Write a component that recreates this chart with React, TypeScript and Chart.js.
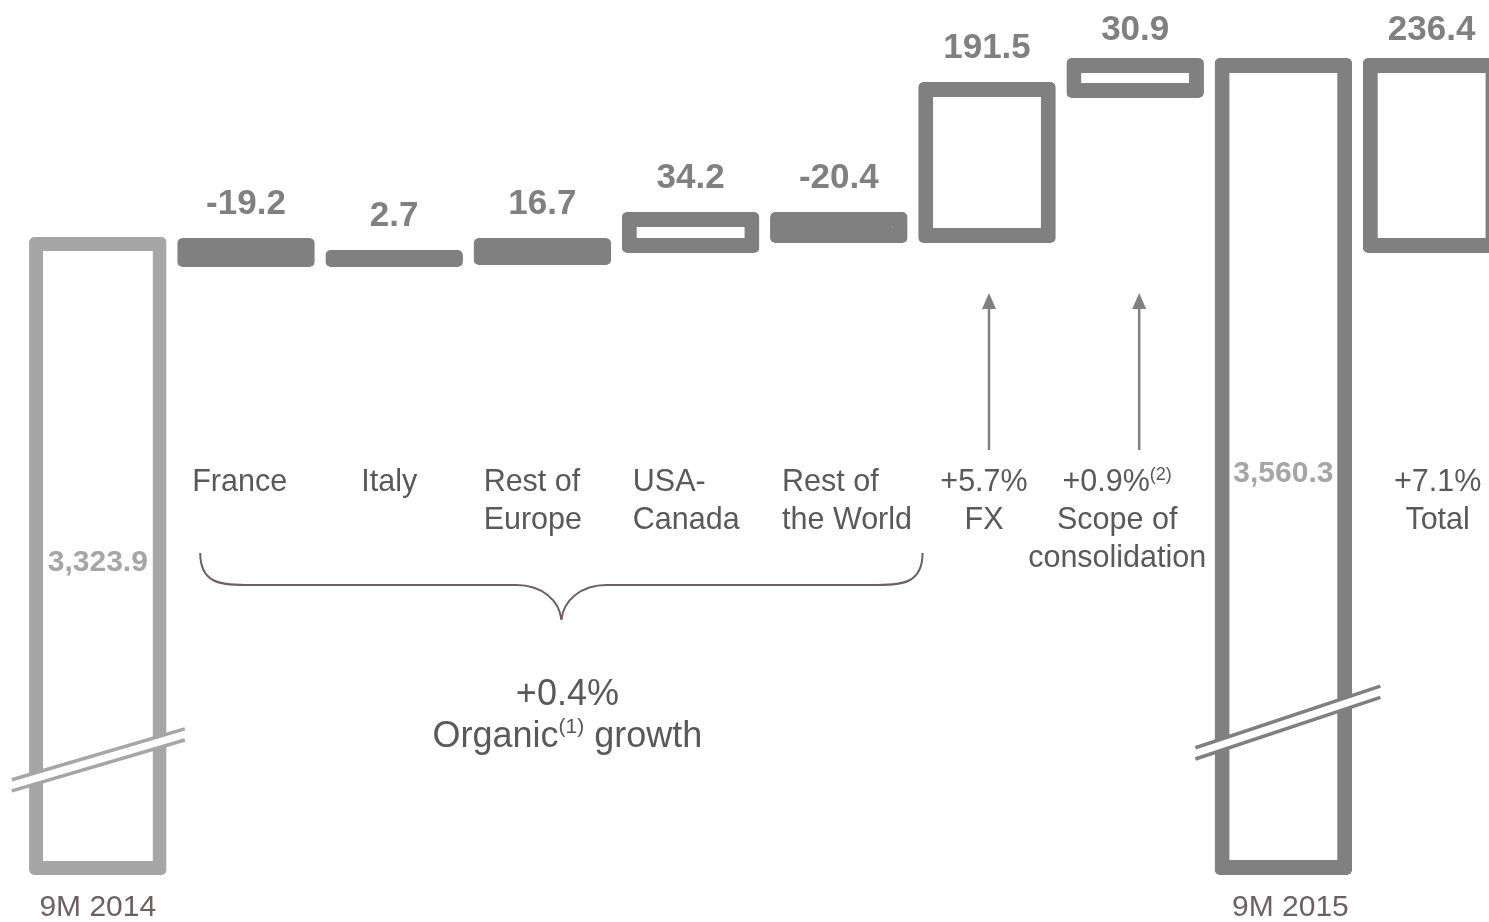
import React, { useEffect, useRef } from 'react';
import { Chart, registerables } from 'chart.js';

Chart.register(...registerables);

// ---- data (EUR millions, stylised waterfall as drawn in the picture) ----
const categories = [
  '9M 2014',
  'France',
  'Italy',
  'Rest of Europe',
  'USA-Canada',
  'Rest of the World',
  'FX',
  'Scope of consolidation',
  '9M 2015',
  'Total',
];
// bar extents (the chart is schematic, with a broken axis)
const barLow = [2481.3, 3284.3, 3284.3, 3286.9, 3302.8, 3316.0, 3316.0, 3507.5, 2481.3, 3302.8];
const barHigh = [3323.9, 3322.6, 3306.7, 3322.6, 3356.9, 3356.9, 3528.6, 3560.3, 3560.3, 3560.3];
const valueLabels = ['', '-19.2', '2.7', '16.7', '34.2', '-20.4', '191.5', '30.9', '', '236.4'];
const insideLabels = ['3,323.9', '', '', '', '', '', '', '', '3,560.3', ''];
const axisLabels = ['9M 2014', '', '', '', '', '', '', '', '9M 2015', ''];
const categoryLines: string[][] = [
  [],
  ['France'],
  ['Italy'],
  ['Rest of', 'Europe'],
  ['USA-', 'Canada'],
  ['Rest of', 'the World'],
  ['+5.7%', 'FX'],
  ['+0.9%|(2)', 'Scope of', 'consolidation'],
  [],
  ['+7.1%', 'Total'],
];
const filledBars = ['France', 'Italy', 'Rest of Europe', 'Rest of the World'];
const organicPct = '+0.4%';
const organicText = ['Organic', '(1)', ' growth'];
const arrowCategories = ['FX', 'Scope of consolidation'];
const breakCategories = ['9M 2014', '9M 2015'];
const breakValues = [2633.2, 2680.7];
const Y_MIN = 2419.3;
const Y_MAX = 3636.9;

// ---- styles ----
const GREY = '#808080';
const LIGHT = '#a6a6a6';
const TEXT = '#595959';
const BROWN = '#6e5f63';
const FONT = '"Liberation Sans", Arial, Helvetica, sans-serif';

// label placement relative to bars (align, offset)
const labelPlacement: { align: 'left' | 'center'; dx: number }[] = [
  { align: 'center', dx: 0 },
  { align: 'left', dx: 15 },
  { align: 'center', dx: -5 },
  { align: 'left', dx: 10 },
  { align: 'left', dx: 11 },
  { align: 'left', dx: 12 },
  { align: 'center', dx: -3 },
  { align: 'center', dx: -18 },
  { align: 'center', dx: 0 },
  { align: 'center', dx: 6 },
];
const breakSlopes = [0.294, 0.333];
const breakSpan = [
  [86, 87],
  [88, 97],
];

type Part = { text: string; size: number; raise: number; bold?: boolean };

function drawParts(ctx: CanvasRenderingContext2D, parts: Part[], x: number, baseline: number, align: 'left' | 'center') {
  let total = 0;
  const widths = parts.map((p) => {
    ctx.font = `${p.bold ? 'bold ' : ''}${p.size}px ${FONT}`;
    const w = ctx.measureText(p.text).width;
    total += w;
    return w;
  });
  let sx = align === 'center' ? x - total / 2 : x;
  ctx.textAlign = 'left';
  ctx.textBaseline = 'alphabetic';
  parts.forEach((p, i) => {
    ctx.font = `${p.bold ? 'bold ' : ''}${p.size}px ${FONT}`;
    ctx.fillText(p.text, sx, baseline - p.raise);
    sx += widths[i];
  });
}

const annotate = {
  id: 'annotate',
  afterDatasetsDraw(chart: any) {
    const ctx: CanvasRenderingContext2D = chart.ctx;
    const els = chart.getDatasetMeta(0).data as any[];
    const yScale = chart.scales.y;
    const bar = (i: number) => {
      const p = els[i].getProps(['x', 'y', 'base', 'width'], true);
      return {
        cx: p.x,
        top: Math.min(p.y, p.base),
        bottom: Math.max(p.y, p.base),
        left: p.x - p.width / 2,
        right: p.x + p.width / 2,
      };
    };
    ctx.save();

    // axis break marks
    breakCategories.forEach((c, k) => {
      const i = categories.indexOf(c);
      const b = bar(i);
      const my = yScale.getPixelForValue(breakValues[k]);
      const s = breakSlopes[k];
      const [a, bb] = breakSpan[k];
      const x1 = b.cx - a;
      const y1 = my + a * s;
      const x2 = b.cx + bb;
      const y2 = my - bb * s;
      const col = i === 0 ? LIGHT : GREY;
      ctx.lineCap = 'butt';
      ctx.strokeStyle = '#ffffff';
      ctx.lineWidth = 9;
      ctx.beginPath();
      ctx.moveTo(x1, y1);
      ctx.lineTo(x2, y2);
      ctx.stroke();
      ctx.strokeStyle = col;
      ctx.lineWidth = 3.5;
      [-5.6, 5.6].forEach((o) => {
        ctx.beginPath();
        ctx.moveTo(x1, y1 + o);
        ctx.lineTo(x2, y2 + o);
        ctx.stroke();
      });
    });

    // value labels above bars
    ctx.fillStyle = GREY;
    ctx.font = `bold 35px ${FONT}`;
    ctx.textAlign = 'center';
    ctx.textBaseline = 'alphabetic';
    valueLabels.forEach((t, i) => {
      if (!t) return;
      const b = bar(i);
      ctx.fillText(t, b.cx, Math.max(b.top - 24, 40));
    });

    // labels inside the total bars
    ctx.fillStyle = LIGHT;
    ctx.font = `bold 30px ${FONT}`;
    insideLabels.forEach((t, i) => {
      if (!t) return;
      const b = bar(i);
      ctx.textBaseline = 'middle';
      ctx.fillText(t, b.cx, (b.top + b.bottom) / 2 + 7);
    });
    ctx.textBaseline = 'alphabetic';

    // axis labels below
    ctx.fillStyle = BROWN;
    ctx.font = `30px ${FONT}`;
    axisLabels.forEach((t, i) => {
      if (!t) return;
      const b = bar(i);
      ctx.textAlign = 'center';
      ctx.fillText(t, b.cx + (i === 0 ? 0 : 7), 916);
    });

    // category labels
    ctx.fillStyle = TEXT;
    const baselines = [491, 529, 567];
    categoryLines.forEach((lines, i) => {
      const b = bar(i);
      const pl = labelPlacement[i];
      const x = pl.align === 'left' ? b.left + pl.dx : b.cx + pl.dx;
      lines.forEach((ln, j) => {
        const [main, sup] = ln.split('|');
        const parts: Part[] = [{ text: main, size: 30.5, raise: 0 }];
        if (sup) parts.push({ text: sup, size: 18, raise: 11 });
        drawParts(ctx, parts, x, baselines[j], pl.align);
      });
    });

    // arrows
    ctx.strokeStyle = GREY;
    ctx.fillStyle = GREY;
    arrowCategories.forEach((c, k) => {
      const b = bar(categories.indexOf(c));
      const x = b.cx + (k === 0 ? 2 : 4);
      const y0 = 450;
      const y1 = 293;
      ctx.lineWidth = 2.5;
      ctx.beginPath();
      ctx.moveTo(x, y0);
      ctx.lineTo(x, y1 + 14);
      ctx.stroke();
      ctx.beginPath();
      ctx.moveTo(x, y1);
      ctx.lineTo(x - 7, y1 + 16);
      ctx.lineTo(x + 7, y1 + 16);
      ctx.closePath();
      ctx.fill();
    });

    // curly brace under organic categories
    const bl = bar(categories.indexOf('France'));
    const br = bar(categories.indexOf('Rest of the World'));
    const L = bl.left + 23;
    const R = br.right + 15;
    const M = (L + R) / 2;
    const yTop = 553;
    const yMid = 585;
    const yTip = 620;
    ctx.strokeStyle = BROWN;
    ctx.lineWidth = 2;
    ctx.beginPath();
    ctx.moveTo(L, yTop);
    ctx.bezierCurveTo(L, yMid - 2, L + 20, yMid, L + 45, yMid);
    ctx.lineTo(M - 45, yMid);
    ctx.bezierCurveTo(M - 20, yMid, M - 2, yTip - 20, M, yTip);
    ctx.bezierCurveTo(M + 2, yTip - 20, M + 20, yMid, M + 45, yMid);
    ctx.lineTo(R - 45, yMid);
    ctx.bezierCurveTo(R - 20, yMid, R, yMid - 2, R, yTop);
    ctx.stroke();

    // organic growth text
    ctx.fillStyle = TEXT;
    drawParts(ctx, [{ text: organicPct, size: 36, raise: 0 }], M + 6, 705, 'center');
    drawParts(
      ctx,
      [
        { text: organicText[0], size: 36, raise: 0 },
        { text: organicText[1], size: 21, raise: 14 },
        { text: organicText[2], size: 36, raise: 0 },
      ],
      M + 6,
      747,
      'center'
    );

    ctx.restore();
  },
};

export default function App() {
  const ref = useRef<HTMLCanvasElement | null>(null);
  useEffect(() => {
    document.body.style.margin = '0';
    const canvas = ref.current;
    if (!canvas) return;
    const chart = new Chart(canvas, {
      type: 'bar',
      data: {
        labels: categories,
        datasets: [
          {
            data: categories.map((_, i) => [barLow[i], barHigh[i]]) as any,
            backgroundColor: categories.map((c) => (filledBars.includes(c) ? GREY : '#ffffff')),
            borderColor: categories.map((_, i) => (i === 0 ? LIGHT : GREY)),
            borderWidth: categories.map((_, i) => (i === 0 ? 14 : 15)),
            borderSkipped: false,
            borderRadius: 5,
            barPercentage: 0.928,
            categoryPercentage: 1,
          } as any,
        ],
      },
      options: {
        animation: false,
        responsive: false,
        devicePixelRatio: 1,
        events: [],
        layout: { padding: { left: 23.7, right: 14.3, top: 0, bottom: 0 } },
        plugins: { legend: { display: false }, tooltip: { enabled: false } },
        scales: {
          x: { display: false },
          y: { display: false, min: Y_MIN, max: Y_MAX },
        },
      },
      plugins: [annotate as any],
    });
    return () => chart.destroy();
  }, []);
  return (
    <div
      style={{
        position: 'fixed',
        left: 0,
        top: 0,
        width: 1489,
        height: 922,
        overflow: 'hidden',
        background: '#ffffff',
      }}
    >
      <canvas ref={ref} width={1520} height={922} style={{ display: 'block' }} />
    </div>
  );
}
